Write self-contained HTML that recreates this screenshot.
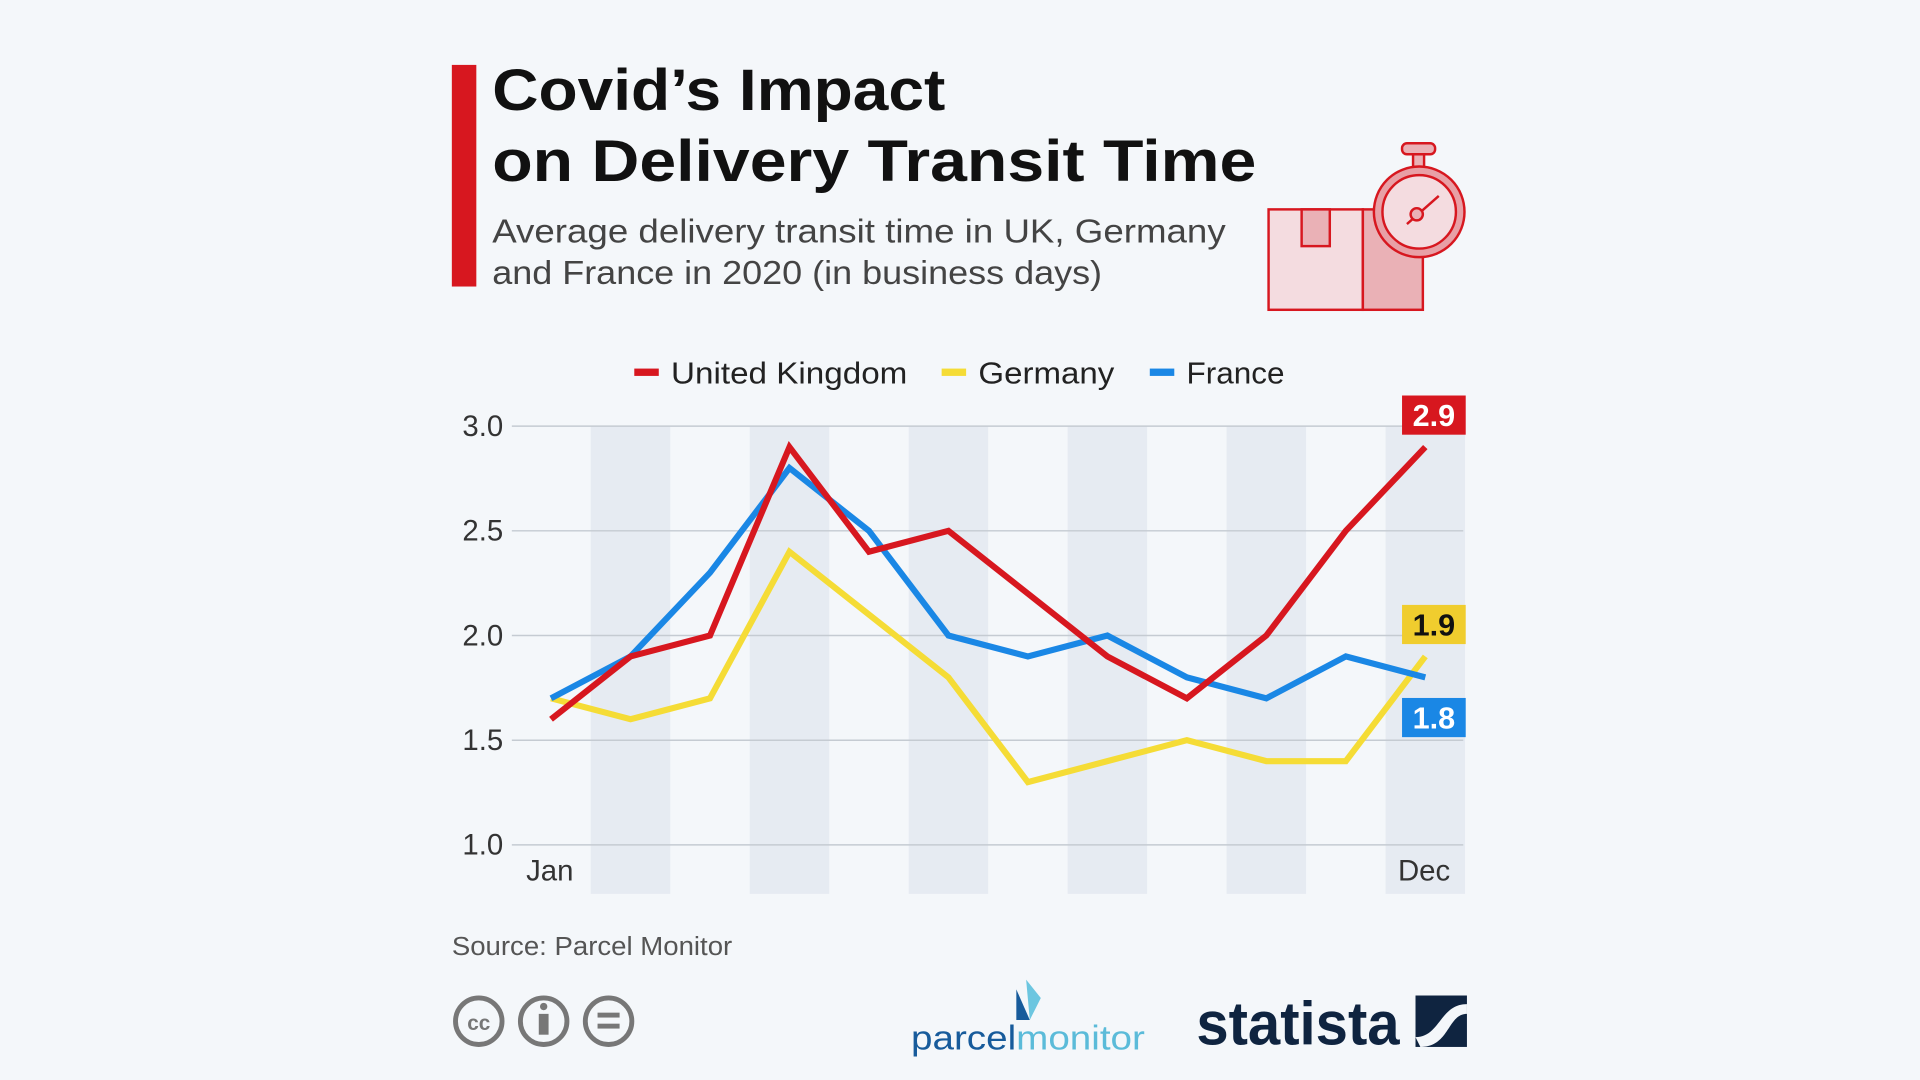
<!DOCTYPE html>
<html><head><meta charset="utf-8"><style>
html,body{margin:0;padding:0;background:#f4f7fa;}
svg{display:block;font-family:"Liberation Sans","DejaVu Sans",sans-serif;}
</style></head><body>
<svg id="chart" width="1920" height="1080" viewBox="0 0 1568 882" xmlns="http://www.w3.org/2000/svg">
<rect width="1568" height="882" fill="#f4f7fa"/>
<rect x="369" y="53" width="20" height="181" fill="#d7171f"/>
<text x="402" y="90" font-size="48" font-weight="bold" fill="#111" textLength="370" lengthAdjust="spacingAndGlyphs">Covid’s Impact</text>
<text x="402" y="148" font-size="48" font-weight="bold" fill="#111" textLength="624" lengthAdjust="spacingAndGlyphs">on Delivery Transit Time</text>
<text x="402" y="198" font-size="27" fill="#444" textLength="599" lengthAdjust="spacingAndGlyphs">Average delivery transit time in UK, Germany</text>
<text x="402" y="232" font-size="27" fill="#444" textLength="498" lengthAdjust="spacingAndGlyphs">and France in 2020 (in business days)</text>
<g stroke="#d7171f" stroke-width="2">
<rect x="1036" y="171" width="77" height="82" fill="#f4dce0"/>
<rect x="1113" y="171" width="49" height="82" fill="#eab1b6"/>
<rect x="1063" y="171" width="23" height="30" fill="#eab1b6"/>
<rect x="1145" y="117" width="27" height="9" rx="4" fill="#eab1b6"/>
<rect x="1154" y="126" width="9" height="12" fill="#eab1b6"/>
<circle cx="1159" cy="173" r="37" fill="#e8a0a6"/>
<circle cx="1159" cy="173" r="30" fill="#f4dce0"/>
<line x1="1149" y1="183" x2="1175" y2="160"/>
<circle cx="1157" cy="175" r="5" fill="#eab1b6"/>
</g>
<g font-size="25" fill="#222">
<rect x="518" y="301" width="20" height="6" fill="#d7171f"/><text x="548" y="313" textLength="193" lengthAdjust="spacingAndGlyphs">United Kingdom</text>
<rect x="769" y="301" width="20" height="6" fill="#f5dc36"/><text x="799" y="313" textLength="111" lengthAdjust="spacingAndGlyphs">Germany</text>
<rect x="939" y="301" width="20" height="6" fill="#1a87e5"/><text x="969" y="313" textLength="80" lengthAdjust="spacingAndGlyphs">France</text>
</g>
<g id="plot"></g>
<text x="369" y="780" font-size="21" fill="#555" textLength="229" lengthAdjust="spacingAndGlyphs">Source: Parcel Monitor</text>
<g fill="none" stroke="#777" stroke-width="4">
<circle cx="391" cy="834" r="19"/><circle cx="444" cy="834" r="19"/><circle cx="497" cy="834" r="19"/>
<text x="391" y="841" font-size="17" font-weight="bold" fill="#777" stroke="none" text-anchor="middle">cc</text>
<circle cx="444" cy="822" r="3" fill="#777" stroke="none"/><rect x="440" y="828" width="8" height="17" fill="#777" stroke="none"/>
<rect x="488" y="827" width="18" height="4" fill="#777" stroke="none"/><rect x="488" y="836" width="18" height="4" fill="#777" stroke="none"/>
</g>
<g>
<polygon points="838,800 850,815 841,833" fill="#6cc6e0"/><polygon points="830,808 841,833 830,833" fill="#175b9b"/>
<text x="744" y="857" font-size="28" fill="#175b9b" textLength="191" lengthAdjust="spacingAndGlyphs">parcel<tspan fill="#5bbbd9">monitor</tspan></text>
</g>
<g>
<text x="977" y="853" font-size="50" font-weight="bold" fill="#0f2440" textLength="166" lengthAdjust="spacingAndGlyphs">statista</text>
<rect x="1156" y="813" width="42" height="42" fill="#0f2440"/>
<path d="M1156,847 C1176,847 1176,820 1198,820 L1198,828 C1182,828 1184,855 1160,855 Z" fill="#f4f7fa"/>
</g>
</svg>
<script>
const months = ["Jan","Feb","Mar","Apr","May","Jun","Jul","Aug","Sep","Oct","Nov","Dec"];
const ukValues = [1.6,1.9,2.0,2.9,2.4,2.5,2.2,1.9,1.7,2.0,2.5,2.9];
const germanyValues = [1.7,1.6,1.7,2.4,2.1,1.8,1.3,1.4,1.5,1.4,1.4,1.9];
const franceValues = [1.7,1.9,2.3,2.8,2.5,2.0,1.9,2.0,1.8,1.7,1.9,1.8];
const yTicks = [1.0,1.5,2.0,2.5,3.0];

const NS="http://www.w3.org/2000/svg";
const plot=document.getElementById('plot');
const x0=450,x1=1164,yTop=348,yBot=690,vMin=1.0,vMax=3.0;
function xs(i){return x0+(x1-x0)*i/(months.length-1);}
function ys(v){return yBot-(v-vMin)/(vMax-vMin)*(yBot-yTop);}
function mk(tag,attrs){const e=document.createElementNS(NS,tag);for(const k in attrs)e.setAttribute(k,attrs[k]);plot.appendChild(e);return e;}
const step=(x1-x0)/(months.length-1);
months.forEach((m,i)=>{if(i%2===1){const r=mk('rect',{x:xs(i)-step/2,y:yTop,width:step,height:730-yTop,fill:'#e6ebf2'});

}});
yTicks.forEach(t=>{const l=mk('line',{x1:418,x2:1195,y1:ys(t),y2:ys(t),stroke:'#c5cbd2','stroke-width':1.2});


const tx=mk('text',{x:411,y:ys(t)+8,'font-size':24,fill:'#333','text-anchor':'end'});tx.textContent=t.toFixed(1);

});
[[0,'Jan'],[11,'Dec']].forEach(([i,m])=>{const tx=mk('text',{x:xs(i)-1,y:719,'font-size':24,fill:'#333','text-anchor':'middle'});tx.textContent=m;

});
function line(vals,color,name){const p=mk('polyline',{points:vals.map((v,i)=>xs(i)+','+ys(v)).join(' '),fill:'none',stroke:color,'stroke-width':5,'stroke-linejoin':'miter'});

}
line(germanyValues,'#f5dc36','germany-line');
line(franceValues,'#1a87e5','france-line');
line(ukValues,'#d7171f','uk-line');
function label(v,y,bg,fg,name){const r=mk('rect',{x:1145,y:y,width:52,height:32,fill:bg});


const t=mk('text',{x:1171,y:y+25,'font-size':25,'font-weight':'bold',fill:fg,'text-anchor':'middle'});t.textContent=v.toFixed(1);

}
label(ukValues[11],323,'#d7171f','#fff','uk-end-label');
label(germanyValues[11],494,'#f0cd2e','#111','germany-end-label');
label(franceValues[11],570,'#1a87e5','#fff','france-end-label');
</script>
</body></html>
